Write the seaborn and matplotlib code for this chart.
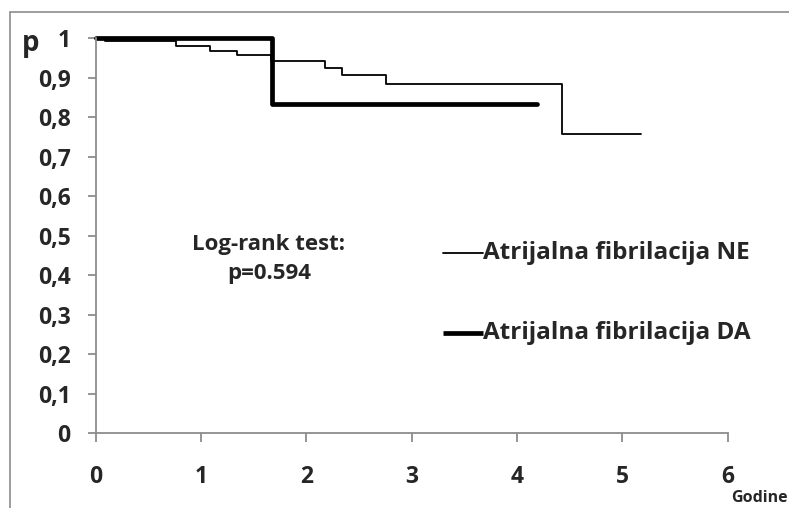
import matplotlib
matplotlib.use("Agg")
import matplotlib.pyplot as plt
import seaborn as sns
import pandas as pd
from matplotlib.patches import Rectangle
from matplotlib.lines import Line2D

# Data
ne_time = [0.0, 0.09, 0.76, 1.085, 1.34, 1.665, 2.18, 2.34, 2.76, 4.43, 5.18]
ne_surv = [1.0, 0.992, 0.980, 0.968, 0.956, 0.942, 0.925, 0.906, 0.884, 0.756, 0.756]
da_time = [0.0, 1.67, 4.19]
da_surv = [1.0, 0.834, 0.834]
x_ticks = [0, 1, 2, 3, 4, 5, 6]
y_ticks = [0, 0.1, 0.2, 0.3, 0.4, 0.5, 0.6, 0.7, 0.8, 0.9, 1.0]
y_labels = ["0", "0,1", "0,2", "0,3", "0,4", "0,5", "0,6", "0,7", "0,8", "0,9", "1"]
label_ne = "Atrijalna fibrilacija NE"
label_da = "Atrijalna fibrilacija DA"
test_text = "Log-rank test:\np=0.594"

sns.set_theme(style="white")
plt.rcParams["font.family"] = ["Open Sans", "DejaVu Sans"]
plt.rcParams["font.weight"] = "bold"

W, H = 789, 508
fig = plt.figure(figsize=(W / 100, H / 100), dpi=100)
ax = fig.add_axes([95.7 / W, 1 - 433.3 / H, (727.7 - 95.7) / W, (433.3 - 38) / H])

df_ne = pd.DataFrame({"t": ne_time, "s": ne_surv})
df_da = pd.DataFrame({"t": da_time, "s": da_surv})
sns.lineplot(data=df_ne, x="t", y="s", ax=ax, color="black", linewidth=1.3,
             drawstyle="steps-post", clip_on=False, estimator=None)
sns.lineplot(data=df_da, x="t", y="s", ax=ax, color="black", linewidth=3.4,
             drawstyle="steps-post", clip_on=False, estimator=None,
             solid_capstyle="round")

ax.set_xlim(0, 6)
ax.set_ylim(0, 1)
ax.set_xticks(x_ticks)
ax.set_xticklabels([str(v) for v in x_ticks])
ax.set_yticks(y_ticks)
ax.set_yticklabels(y_labels)
ax.set_xlabel("")
ax.set_ylabel("")
gray = "#8c8c8c"
for side in ["top", "right"]:
    ax.spines[side].set_visible(False)
for side in ["left", "bottom"]:
    ax.spines[side].set_color(gray)
    ax.spines[side].set_linewidth(1.3)
ax.tick_params(axis="y", direction="out", length=6, width=1.3, color=gray,
               left=True, pad=12, labelsize=16.5)
ax.tick_params(axis="x", direction="out", length=6.5, width=1.3, color=gray,
               bottom=True, pad=16, labelsize=16.5)
for lab in ax.get_xticklabels() + ax.get_yticklabels():
    lab.set_fontweight("bold")

# Annotations
fig.text(31 / W, 1 - 44 / H, "p", fontsize=20, fontweight="bold", ha="center", va="center")
fig.text(731 / W, 1 - 498 / H, "Godine", fontsize=11.5, fontweight="bold", ha="left", va="center")
fig.text(269 / W, 1 - 259 / H, test_text, fontsize=16, fontweight="bold",
         ha="center", va="center", linespacing=1.5)

# Legend-like entries
fig.add_artist(Line2D([443 / W, 483 / W], [1 - 253 / H, 1 - 253 / H], color="black", lw=1.3))
fig.text(483 / W, 1 - 253 / H, label_ne, fontsize=17.5, fontweight="bold", ha="left", va="center")
fig.add_artist(Line2D([443 / W, 483 / W], [1 - 333 / H, 1 - 333 / H], color="black", lw=3.4,
                      solid_capstyle="butt"))
fig.text(483 / W, 1 - 333 / H, label_da, fontsize=17.5, fontweight="bold", ha="left", va="center")

# Outer frame (extends past right and bottom edges)
fig.add_artist(Rectangle((9.5 / W, -0.05), 1.2, 1 - 12 / H + 0.05, transform=fig.transFigure,
                         fill=False, edgecolor=gray, linewidth=1.2))

fig.savefig("out.png", dpi=100)
